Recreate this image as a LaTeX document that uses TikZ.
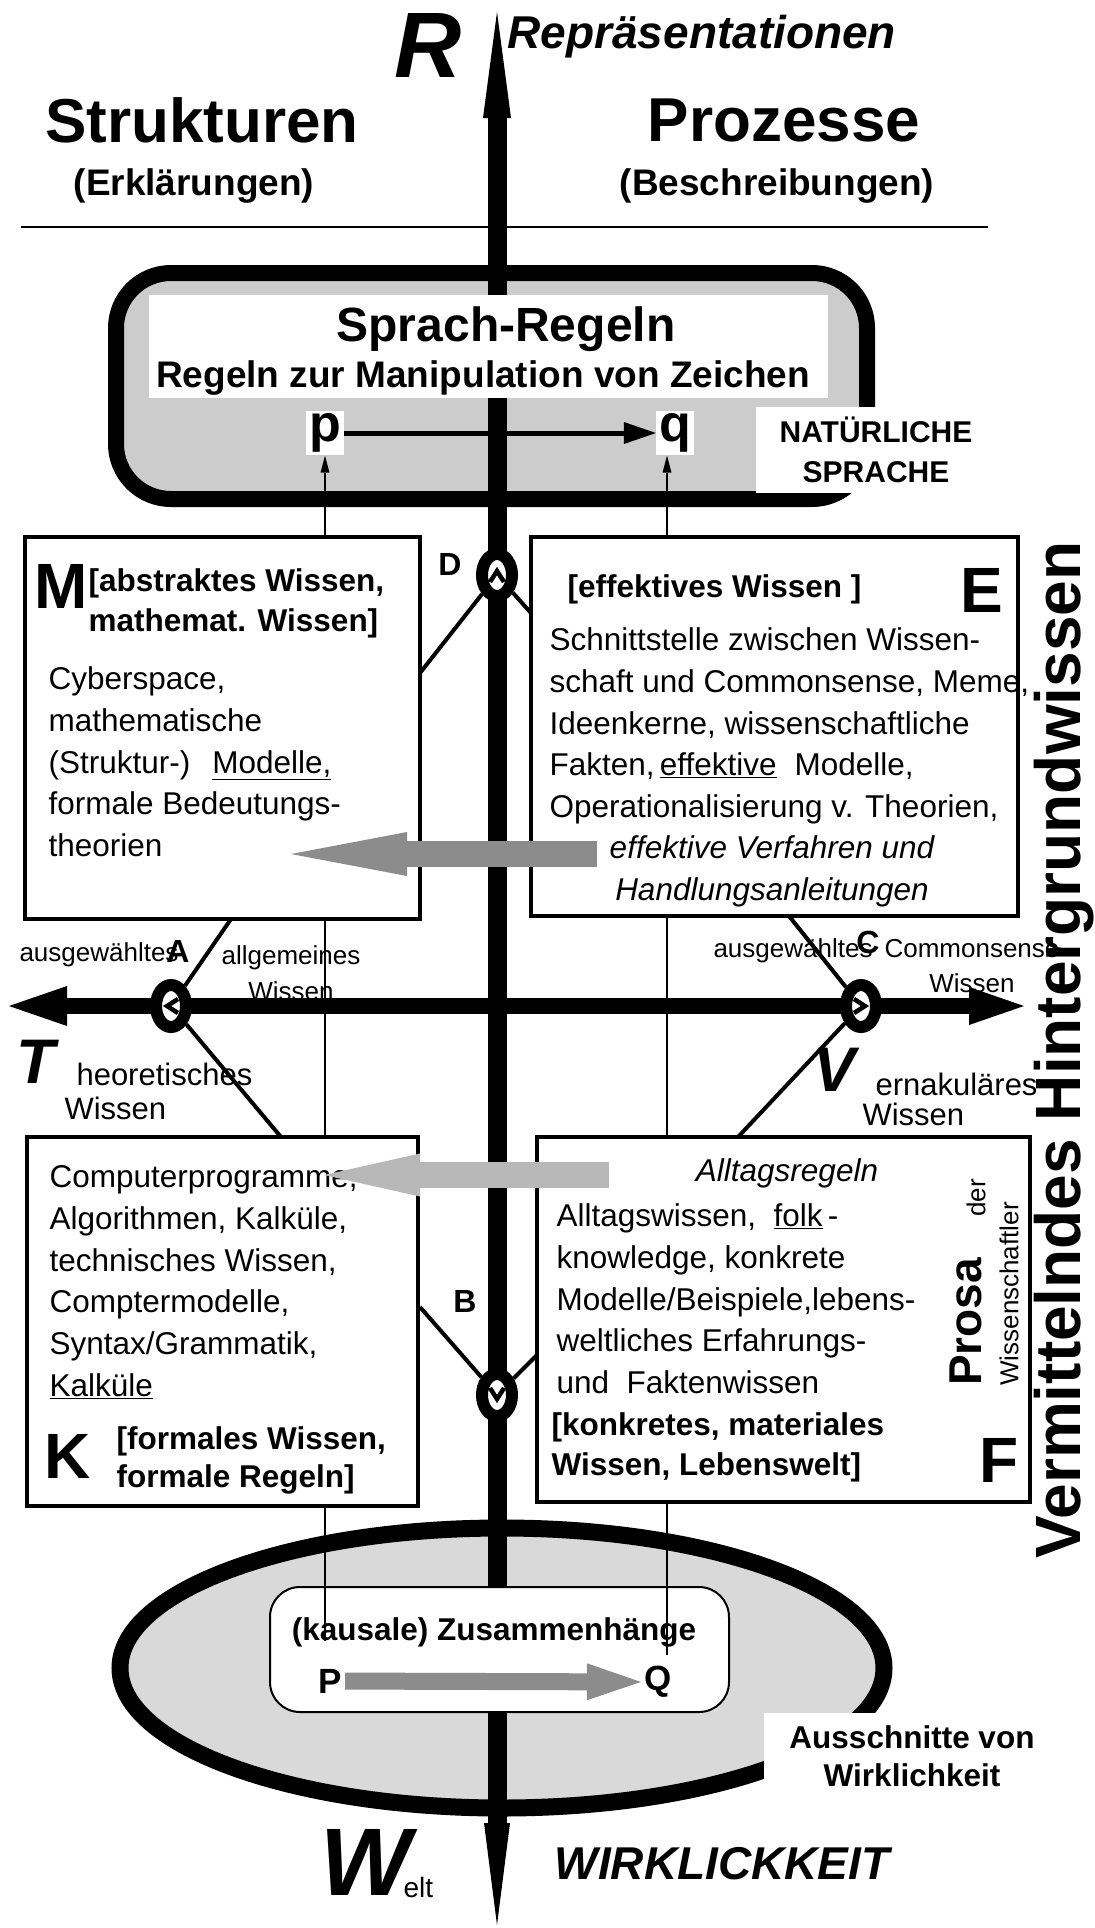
\documentclass[tikz,border=0pt]{standalone}
\usepackage{fontspec}
\setmainfont{Liberation Sans}
\usetikzlibrary{arrows.meta,shapes.geometric,positioning}
\newcommand\fsz[2]{\fontsize{#1}{#2}\selectfont}
\begin{document}
\begin{tikzpicture}[x=1pt,y=-1pt,
  box/.style={draw, line width=4pt, fill=white, inner sep=0pt},
  knot/.style={ellipse, draw, line width=12pt, fill=white, minimum width=30pt, minimum height=42pt, inner sep=0pt},
  chev/.style={line width=4.5pt, line join=miter},
  link/.style={line width=4pt},
  thinline/.style={line width=2pt, -{Triangle[length=17pt,width=9pt,line width=0pt]}},
  body/.style={anchor=west, align=left, font=\fsz{31.5}{41.7}},
  head/.style={anchor=west, align=left, font=\bfseries\fsz{31.5}{40}},
  bigletter/.style={font=\bfseries\fsz{64}{64}},
  knotlabel/.style={font=\bfseries\fsz{32}{32}},
  small/.style={font=\fsz{26}{26}}]
\fill[white] (0,0) rectangle (1095,1928);
\useasboundingbox (0,0) rectangle (1095,1928);
\node[draw, line width=16pt, rounded corners=55pt, fill=black!20, minimum width=751pt, minimum height=226pt] (spr) at (491.5,386) {};
\node[ellipse, draw, line width=17pt, fill=black!15, minimum width=764pt, minimum height=280pt, inner sep=0pt] (welt) at (502,1668) {};
\coordinate (Rtop) at (497,12);
\coordinate (Wbot) at (497,1925);
\coordinate (Tleft) at (9,1006);
\coordinate (Vright) at (1024,1006);
\draw[line width=19pt, {Triangle[length=102pt,width=26pt,line width=0pt]}-{Triangle[length=106pt,width=28pt,line width=0pt]}] (Wbot) -- (Rtop);
\draw[line width=16pt, {Triangle[length=58pt,width=40pt,line width=0pt]}-{Triangle[length=55pt,width=38pt,line width=0pt]}] (Tleft) -- (Vright);
\coordinate (ruleL) at (21,227);
\coordinate (ruleR) at (988,227);
\draw[line width=2.5pt] (ruleL) -- (ruleR);
\node[fill=white, minimum width=679pt, minimum height=103pt, inner sep=0pt] (sprlabel) at (488.5,346.5) {};
\node[font=\bfseries\fsz{48}{48}] (sprach) at (506,329) {Sprach-Regeln};
\node[font=\bfseries\fsz{37}{37}] (regeln) at (483,378) {Regeln zur Manipulation von Zeichen};
\node[fill=white, inner sep=3pt, font=\bfseries\fsz{52}{52}] (p) at (325,433) {p};
\node[fill=white, inner sep=3pt, font=\bfseries\fsz{52}{52}] (q) at (675,433) {q};
\draw[line width=5pt, -{Triangle[length=32pt,width=22pt,line width=0pt]}] (p) -- (q);
\node[fill=white, align=center, minimum width=240pt, minimum height=86pt, font=\bfseries\fsz{30}{40}] (natsp) at (876,450) {NATÜRLICHE\\SPRACHE};
\node[draw, line width=2pt, rounded corners=30pt, fill=white, minimum width=459pt, minimum height=125pt] (kaus) at (499.5,1649.5) {};
\node[font=\bfseries\fsz{31.5}{31.5}] (kauslab) at (494,1632) {(kausale) Zusammenhänge};
\node[font=\bfseries\fsz{35}{35}] (P) at (330,1681) {P};
\node[font=\bfseries\fsz{35}{35}] (Q) at (658,1682) {Q};
\draw[line width=17pt, black!45, -{Triangle[length=54pt,width=37pt,line width=0pt]}] (P) -- (Q);
\node[fill=white, align=center, minimum width=296pt, minimum height=87pt, font=\bfseries\fsz{31.5}{38}] (aus) at (912,1756.5) {Ausschnitte von\\Wirklichkeit};
\coordinate (Pend) at (325,1641);
\coordinate (Qend) at (667,1655);
\draw[thinline] (Pend) -- (p);
\draw[thinline] (Qend) -- (Qend |- q.south);
\node[box, minimum width=395pt, minimum height=382pt] (M) at (222.5,728) {};
\node[box, minimum width=487pt, minimum height=379pt] (E) at (774.5,726.5) {};
\node[box, minimum width=391pt, minimum height=369pt] (K) at (222.5,1321.5) {};
\node[box, minimum width=493pt, minimum height=365pt] (F) at (783.5,1319.5) {};
\node[bigletter] (Mlet) at (61,586) {M};
\node[head] (Mhead) at (85,603) {[abstraktes Wissen,\\mathemat. Wissen]};
\node[body] (Mbody) at (45,762) {Cyberspace,\\mathematische\\(Struktur-)\hspace{22pt}\underline{Modelle,}\\formale Bedeutungs-\\theorien};
\node[bigletter] (Elet) at (982,590) {E};
\node[head] (Ehead) at (564,589) {[effektives Wissen ]};
\node[body] (Ebody) at (546,726) {Schnittstelle zwischen Wissen-\\schaft und Commonsense, Meme,\\Ideenkerne, wissenschaftliche\\Fakten,\,\underline{effektive}\hspace{18pt}Modelle,\\Operationalisierung v. Theorien,};
\node[align=center, font=\itshape\fsz{31.5}{42}] (Eital) at (772,871) {effektive Verfahren und\\Handlungsanleitungen};
\node[body] (Kbody) at (46,1282) {Computerprogramme,\\Algorithmen, Kalküle,\\technisches Wissen,\\Comptermodelle,\\Syntax/Grammatik,\\\underline{Kalküle}};
\node[bigletter] (Klet) at (68,1456) {K};
\node[head, font=\bfseries\fsz{31.5}{38}] (Khead) at (113,1460) {[formales Wissen,\\formale Regeln]};
\node[font=\itshape\fsz{31.5}{31.5}] (Fital) at (787,1173) {Alltagsregeln};
\node[body] (Fbody) at (553,1299) {Alltagswissen,\ \ \underline{folk}\,-\\knowledge, konkrete\\Modelle/Beispiele,lebens-\\weltliches Erfahrungs-\\und\ \ Faktenwissen};
\node[head] (Fhead) at (548,1447) {[konkretes, materiales\\Wissen, Lebenswelt]};
\node[bigletter] (Flet) at (999,1460) {F};
\node[rotate=90, font=\bfseries\fsz{46}{46}] (prosa) at (966,1322) {Prosa};
\node[rotate=90, small] (der) at (976,1198) {der};
\node[rotate=90, small] (wiss) at (1009,1294) {Wissenschaftler};
\node[rotate=90, font=\bfseries\fsz{64}{64}] (vhw) at (1064,1050) {Vermittelndes Hintergrundwissen};
\node[knot] (D) at (497,575) {};
\node[knot] (B) at (497,1395) {};
\node[knot] (A) at (171,1006) {};
\node[knot] (C) at (861,1006) {};
\draw[chev, shift={(D.center)}] (-7,7) -- (0,-4) -- (7,7);
\draw[chev, shift={(B.center)}] (-7,-7) -- (0,4) -- (7,-7);
\draw[chev, shift={(A.center)}] (7,-7) -- (-4,0) -- (7,7);
\draw[chev, shift={(C.center)}] (-7,-7) -- (4,0) -- (-7,7);
\coordinate (dM) at (420,673);
\coordinate (dE) at (531,613);
\coordinate (aM) at (231,919);
\coordinate (aK) at (281,1137);
\coordinate (cE) at (789,916);
\coordinate (cF) at (738,1137);
\coordinate (bK) at (420,1307);
\coordinate (bF) at (537,1355);
\draw[link] (D) -- (dM);
\draw[link] (D) -- (dE);
\draw[link] (A) -- (aM);
\draw[link] (A) -- (aK);
\draw[link] (C) -- (cE);
\draw[link] (C) -- (cF);
\draw[link] (B) -- (bK);
\draw[link] (B) -- (bF);
\coordinate (emS) at (597,854);
\coordinate (emT) at (291,854);
\draw[line width=26pt, black!45, -{Triangle[length=116pt,width=44pt,line width=0pt]}] (emS) -- (emT);
\coordinate (fkS) at (609,1175);
\coordinate (fkT) at (324,1175);
\draw[line width=26pt, black!28, -{Triangle[length=96pt,width=43pt,line width=0pt]}] (fkS) -- (fkT);
\node[knotlabel] (Dlab) at (450,564) {D};
\node[knotlabel] (Blab) at (465,1301) {B};
\node[small, anchor=west] (ausgA) at (16,955) {ausgewähltes};
\node[knotlabel] (Alab) at (178,951) {A};
\node[align=center, font=\fsz{26}{36}] (allg) at (291,973) {allgemeines\\Wissen};
\node[font=\bfseries\itshape\fsz{63}{63}] (Tlab) at (36,1062) {T};
\node[anchor=west, align=left, font=\fsz{31}{34}] (theo) at (61,1091) {\hspace*{12pt}heoretisches\\Wissen};
\node[small, anchor=west] (ausgC) at (710,951) {ausgewähltes};
\node[knotlabel] (Clab) at (868,942) {C};
\node[align=center, font=\fsz{26}{35}] (comm) at (972,966) {Commonsense\\Wissen};
\node[font=\bfseries\itshape\fsz{63}{63}] (Vlab) at (835,1070) {V};
\node[anchor=west, align=left, font=\fsz{31}{30}] (vern) at (859,1099) {\hspace*{13pt}ernakuläres\\Wissen};
\node[font=\bfseries\itshape\fsz{93}{93}] (Rlab) at (428,46) {R};
\node[anchor=west, font=\bfseries\itshape\fsz{46}{46}] (repr) at (504,37) {Repräsentationen};
\node[font=\bfseries\fsz{62}{62}] (strukt) at (202,120) {Strukturen};
\node[font=\bfseries\fsz{62}{62}] (proz) at (784,120) {Prozesse};
\node[font=\bfseries\fsz{37}{37}] (erkl) at (194,186) {(Erklärungen)};
\node[font=\bfseries\fsz{37}{37}] (beschr) at (777,186) {(Beschreibungen)};
\node[font=\bfseries\itshape\fsz{96}{96}] (Wlab) at (366,1862) {W};
\node[anchor=base west, font=\fsz{28}{28}] (elt) at (400,1897) {elt};
\node[font=\bfseries\itshape\fsz{46}{46}] (wirk) at (722,1864) {WIRKLICKKEIT};
\end{tikzpicture}
\end{document}
